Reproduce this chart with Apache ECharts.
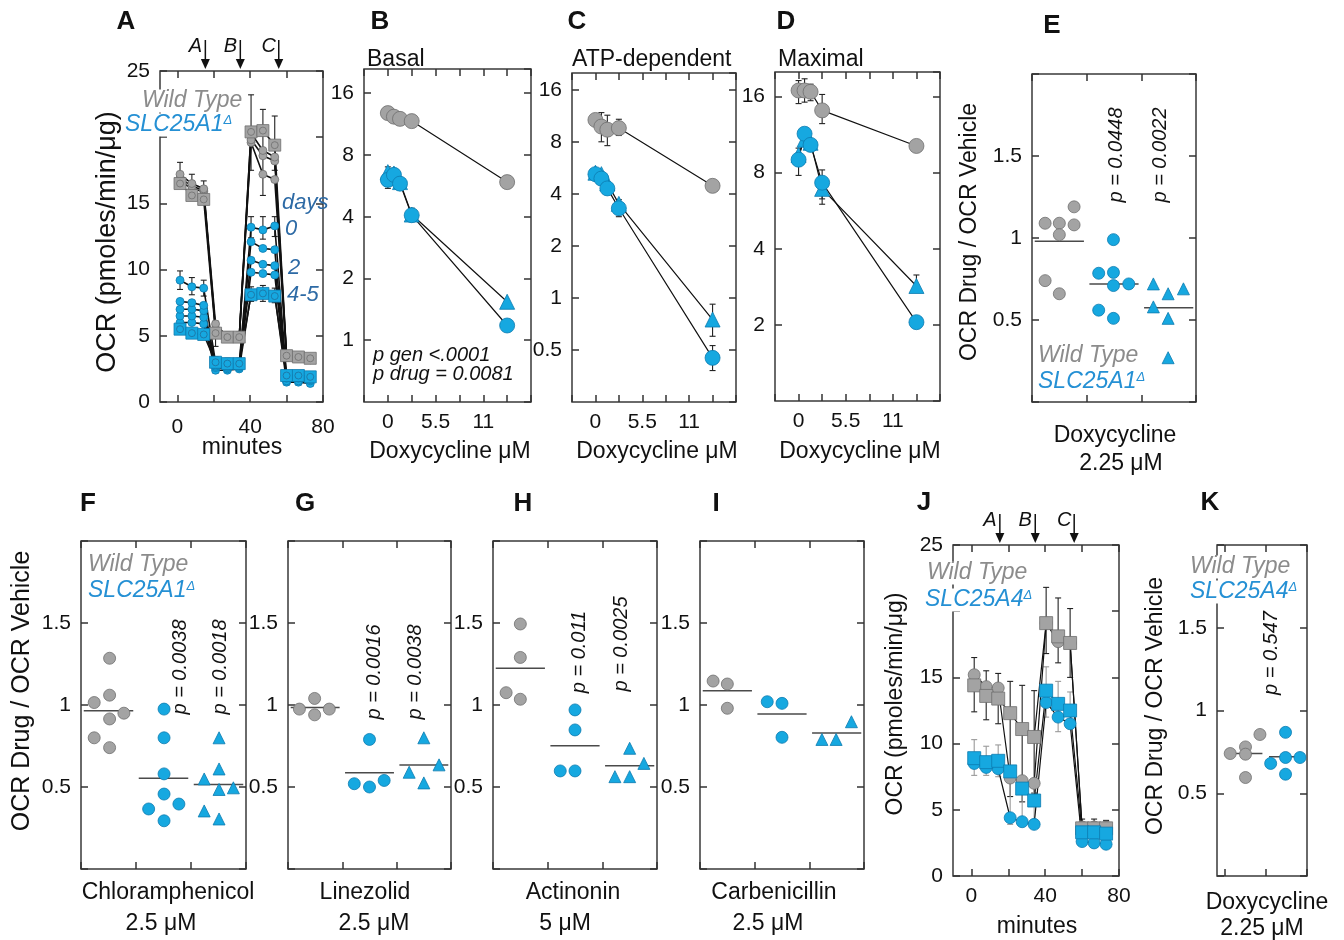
<!DOCTYPE html>
<html>
<head>
<meta charset="utf-8">
<title>OCR after antibiotic treatment</title>
<script src="https://cdn.jsdelivr.net/npm/echarts@6/dist/echarts.min.js"></script>
<style>
html,body{margin:0;padding:0;background:#fff}
#fig{width:1344px;height:940px}
</style>
</head>
<body>
<div id="fig"></div>
<script>
// ---------- data ----------
// seahorse time course (minutes) and injection times
var minutes = [1.5, 8, 14.5, 21, 27.5, 34, 40.5, 47, 53.5, 60, 66.5, 73];
var injections = [15.4, 34.6, 55.7];
var injectionNames = ['A', 'B', 'C'];

// panel A : wild type (grey) and SLC25A1 (blue), several days of doxycycline
var wtA_sq = [16.5, 15.6, 15.3, 5.2, 4.9, 4.9, 20.4, 20.5, 19.4, 3.5, 3.4, 3.3];
var wtA_c1 = [17.2, 16.5, 16.1, 5.9, 4.9, 4.9, 20.3, 19.0, 18.5, 3.5, 3.4, 3.2];
var wtA_c2 = [16.9, 16.3, 16.0, 5.5, 4.9, 4.8, 19.8, 18.6, 18.2, 3.4, 3.4, 3.2];
var wtA_c3 = [16.7, 16.1, 15.9, 5.4, 4.8, 4.8, 19.6, 17.2, 16.8, 3.4, 3.3, 3.2];
var koA_c0 = [9.2, 8.7, 8.6, 3.0, 2.9, 2.9, 13.2, 13.0, 13.3, 2.0, 2.0, 1.9];
var koA_c1 = [7.6, 7.5, 7.3, 2.8, 2.7, 2.8, 12.1, 11.6, 11.5, 1.9, 1.9, 1.8];
var koA_c2 = [7.0, 7.0, 6.9, 2.7, 2.6, 2.7, 10.7, 10.4, 10.3, 1.8, 1.8, 1.7];
var koA_c3 = [6.5, 6.5, 6.4, 2.6, 2.5, 2.6, 9.8, 9.7, 9.6, 1.6, 1.6, 1.6];
var koA_c4 = [6.0, 6.0, 5.9, 2.4, 2.4, 2.5, 8.2, 8.3, 8.1, 1.5, 1.5, 1.4];
var koA_sq = [5.5, 5.2, 5.1, 3.0, 2.9, 2.9, 8.1, 8.2, 8.0, 2.0, 2.0, 1.9];
// [minute, low, high]
var errA_wt = [[1.5,16.3,18.1],[8,15.6,17.2],[14.5,15.2,16.7],[21,4.2,6.1],[27.5,4.5,5.3],[34,4.5,5.3],
               [40.5,17.5,23.2],[47,15.6,22.1],[53.5,17.5,21.6],[60,3.1,3.8],[66.5,3.1,3.7],[73,3.0,3.6]];
var errA_ko = [[1.5,8.5,9.9],[8,8.1,9.4],[14.5,8.0,9.2],[21,2.2,3.4],[27.5,2.4,3.3],[34,2.4,3.3],
               [40.5,12.4,14.0],[47,12.3,14.0],[53.5,12.5,14.0],[60,1.3,2.3],[66.5,1.3,2.3],[73,1.2,2.2],
               [40.5,7.6,8.7],[47,7.6,8.8],[53.5,7.5,8.6]];

// panels B-D : doxycycline dose response (log2 OCR axis)
var doses = [0, 0.7, 1.4, 2.75, 13.75];
var wtB = [12.8, 12.3, 12.0, 11.7, 5.9];
var koB_c = [6.05, 6.4, 5.8, 4.07, 1.18];
var koB_t = [6.6, 6.5, 5.9, 4.1, 1.54];
var errB = [[0,12.3,13.3],[0.7,11.6,13.0],[1.4,11.3,12.6],[2.75,11.1,12.3],[13.75,5.6,6.3],
            [0,5.5,7.0],[0.7,6.0,6.8],[1.4,5.5,6.1],[2.75,3.8,4.4],[13.75,1.12,1.25]];
var wtC = [10.7, 9.8, 9.4, 9.6, 4.45];
var koC_c = [5.2, 4.9, 4.3, 3.3, 0.45];
var koC_t = [5.3, 5.2, 4.6, 3.5, 0.75];
var errC = [[0,10.0,11.5],[0.7,8.0,11.8],[1.4,7.6,11.4],[2.75,8.7,10.8],[13.75,4.2,4.8],
            [0,4.9,5.6],[1.4,4.0,4.7],[2.75,2.95,3.7],[13.75,0.38,0.53],[13.75,0.6,0.92]];
var wtD = [16.9, 16.9, 16.7, 14.1, 10.2];
var koD_c = [9.0, 11.4, 10.3, 7.3, 2.05];
var koD_t = [9.4, 10.8, 10.5, 6.9, 2.85];
var errD = [[0,15.0,18.5],[0.7,15.2,18.8],[1.4,15.4,17.9],[2.75,12.5,16.3],[13.75,9.7,10.6],
            [0,7.8,10.0],[0.7,10.8,12.0],[2.75,6.3,8.2],[2.75,6.0,7.6],[13.75,2.7,3.15]];

// panels E-I, K : OCR drug / OCR vehicle, [group position, ratio]
var wtE = [[0.24,1.09],[0.5,1.09],[0.77,1.08],[0.77,1.19],[0.5,1.02],[0.24,0.74],[0.5,0.66]];
var koE_c = [[1.49,0.99],[1.22,0.785],[1.49,0.79],[1.49,0.71],[1.77,0.72],[1.22,0.56],[1.49,0.51]];
var koE_t = [[2.22,0.72],[2.49,0.66],[2.77,0.69],[2.22,0.58],[2.49,0.51],[2.49,0.27]];
var meanE = [0.98, 0.72, 0.575];

var wtF = [[0.52,1.285],[0.52,1.06],[0.24,1.015],[0.78,0.95],[0.52,0.915],[0.24,0.8],[0.52,0.74]];
var koF_c = [[1.51,0.975],[1.51,0.80],[1.51,0.58],[1.51,0.457],[1.23,0.366],[1.78,0.396],[1.51,0.294]];
var koF_t = [[2.51,0.80],[2.51,0.61],[2.24,0.549],[2.51,0.485],[2.77,0.495],[2.24,0.354],[2.51,0.305]];
var meanF = [0.965, 0.553, 0.516];

var wtG = [[0.21,0.975],[0.49,1.04],[0.49,0.94],[0.76,0.975]];
var koG_c = [[1.5,0.79],[1.22,0.52],[1.5,0.5],[1.77,0.54]];
var koG_t = [[2.5,0.80],[2.23,0.59],[2.5,0.525],[2.78,0.635]];
var meanG = [0.985, 0.587, 0.634];

var wtH = [[0.5,1.494],[0.5,1.29],[0.24,1.075],[0.5,1.035]];
var koH_c = [[1.5,0.97],[1.5,0.848],[1.23,0.598],[1.5,0.598]];
var koH_t = [[2.5,0.736],[2.76,0.644],[2.23,0.563],[2.5,0.563]];
var meanH = [1.224, 0.752, 0.63];

var wtI = [[0.24,1.146],[0.5,1.128],[0.5,0.98]];
var koI_c = [[1.23,1.02],[1.5,1.01],[1.5,0.803]];
var koI_t = [[2.77,0.898],[2.23,0.79],[2.49,0.79]];
var meanI = [1.087, 0.945, 0.83];

// panel J : SLC25A4 time course
var wtJ_c = [15.2, 14.3, 14.2, 7.4, 7.2, 7.0, 19.1, 17.7, 17.6, 3.7, 3.7, 3.7];
var wtJ_sq = [14.4, 13.6, 13.4, 12.3, 11.1, 10.5, 19.1, 18.1, 17.6, 3.6, 3.6, 3.6];
var koJ_sq = [8.9, 8.6, 8.7, 7.9, 6.6, 5.7, 14.0, 13.0, 12.5, 3.3, 3.3, 3.2];
var koJ_c = [8.5, 8.2, 8.1, 4.4, 4.1, 3.9, 13.1, 12.0, 11.5, 2.6, 2.5, 2.4];
var errJ_wt = [[1.5,12.4,16.5],[8,11.8,15.5],[14.5,11.5,15.3],[21,6.0,14.7],[27.5,5.6,14.4],[34,6.2,14.0],
               [40.5,16.8,21.8],[47,16.1,21.0],[53.5,15.0,20.2],[60,3.0,4.3],[66.5,3.0,4.3],[73,3.0,4.2]];
var errJ_ko = [[1.5,7.6,10.3],[8,7.6,9.8],[14.5,7.5,9.9],[21,3.9,8.2],[27.5,3.8,6.9],[34,3.6,6.3],
               [40.5,12.0,15.8],[47,10.9,14.7],[53.5,11.3,13.9],[60,2.3,3.6],[66.5,2.2,3.6],[73,2.1,3.5]];

// panel K
var wtK = [[0.14,0.74],[0.51,0.78],[0.51,0.736],[0.86,0.855],[0.51,0.595]];
var koK_c = [[1.48,0.868],[1.12,0.68],[1.48,0.716],[1.83,0.716],[1.48,0.615]];
var meanK = [0.74, 0.72];

// ---------- layout / style ----------
var FONT = "'Liberation Sans', Arial, Helvetica, sans-serif";
var GRAY = '#a3a3a3', GRAY_EDGE = '#6e6e6e';
var BLUE = '#16a8e0', BLUE_EDGE = '#0c7bb0';
var GRAY_TXT = '#8c8c8c', BLUE_TXT = '#2590d4', DAYS_TXT = '#2d6aa5';
// left, top, width, height of each panel box (A..K)
var grids = [
  [160, 71, 163, 331], [364, 69, 167, 333], [572, 73, 164, 329], [775, 72, 165, 329],
  [1032, 74, 164, 328], [81, 541, 165, 328], [288, 541, 163, 328], [493, 541, 164, 328],
  [700, 541, 164, 328], [953, 545, 166, 331], [1217, 545, 90, 331]
];

var chart = echarts.init(document.getElementById('fig'));

// ---------- axes ----------
var xAxes = [], yAxes = [];
function axis(g, pos, o, withLabels) {
  var a = {
    gridIndex: g, position: pos, type: 'value',
    axisLine: {show: false, onZero: false}, splitLine: {show: false},
    axisTick: {show: true, inside: true, length: 7, lineStyle: {color: '#333', width: 1.5}},
    axisLabel: {color: '#111', fontSize: 21, fontFamily: FONT, margin: 10}
  };
  for (var k in o) {
    if (k === 'axisLabel' || k === 'axisTick') {
      for (var j in o[k]) a[k][j] = o[k][j];
    } else a[k] = o[k];
  }
  a.axisLabel.show = withLabels;
  return a;
}
function panelAxes(g, xo, yo, xLabels) {
  xAxes.push(axis(g, 'bottom', xo, xLabels), axis(g, 'top', xo, false));
  yAxes.push(axis(g, 'left', yo, true), axis(g, 'right', yo, false));
}
function timeX(min, gap) {
  return {min: min, max: 80, axisTick: {customValues: [0, 20, 40, 60, 80]},
    axisLabel: {customValues: [0, 40, 80], margin: gap}};
}
var ocrY = {min: 0, max: 25, interval: 5, axisLabel: {formatter: function (v) { return v === 20 ? '' : String(v); }}};
var doseX = {min: -2.75, max: 16.5, interval: 2.75, axisLabel: {formatter: function (v) {
  var r = Math.round(v * 100) / 100;
  return (r === 0 || r === 5.5 || r === 11) ? String(r) : '';
}}};
function logY(min, max, shown) {
  return {type: 'log', logBase: 2, min: min, max: max, axisLabel: {showMinLabel: false, showMaxLabel: false,
    formatter: function (v) { var r = Math.round(v * 1000) / 1000; return shown.indexOf(r) >= 0 ? String(r) : ''; }}};
}
var ratioY = {min: 0, max: 2, interval: 0.5, axisLabel: {formatter: function (v) { return (v > 0 && v < 2) ? String(v) : ''; }}};
var groupX = {min: 0, max: 3, interval: 1};
var kX = {min: -0.18, max: 2, axisTick: {customValues: [0, 1, 2]}};

panelAxes(0, timeX(-9.5, 15), ocrY, true);
panelAxes(1, doseX, logY(0.5, 21, [1, 2, 4, 8, 16]), true);
panelAxes(2, doseX, logY(0.25, 20, [0.5, 1, 2, 4, 8, 16]), true);
panelAxes(3, doseX, logY(1, 20, [2, 4, 8, 16]), true);
for (var g = 4; g <= 8; g++) panelAxes(g, groupX, ratioY, false);
panelAxes(9, timeX(-10, 10), ocrY, true);
panelAxes(10, kX, ratioY, false);

// ---------- series ----------
var S = [];
function ser(g, o) { o.xAxisIndex = 2 * g; o.yAxisIndex = 2 * g; S.push(o); }
function pairs(xs, ys) { return xs.map(function (x, i) { return [x, ys[i]]; }); }
function curve(g, xs, ys, sym, size, fill, edge, lw) {
  ser(g, {type: 'line', data: pairs(xs, ys), symbol: sym, symbolSize: size, showSymbol: true, z: 3,
    lineStyle: {color: '#111', width: lw}, itemStyle: {color: fill, borderColor: edge, borderWidth: 0.8}});
}
function dots(g, pts, sym, size, fill, edge) {
  ser(g, {type: 'scatter', data: pts, symbol: sym, symbolSize: size, z: 4,
    itemStyle: {color: fill, borderColor: edge, borderWidth: 0.8, opacity: 1}});
}
function bars(g, rows, color) {
  ser(g, {type: 'custom', data: rows, z: 2, encode: {x: 0, y: [1, 2]},
    renderItem: function (p, api) {
      var x = api.value(0);
      var lo = api.coord([x, api.value(1)]), hi = api.coord([x, api.value(2)]);
      var st = {stroke: color, lineWidth: 1.1};
      return {type: 'group', children: [
        {type: 'line', shape: {x1: lo[0], y1: lo[1], x2: hi[0], y2: hi[1]}, style: st},
        {type: 'line', shape: {x1: hi[0] - 3, y1: hi[1], x2: hi[0] + 3, y2: hi[1]}, style: st},
        {type: 'line', shape: {x1: lo[0] - 3, y1: lo[1], x2: lo[0] + 3, y2: lo[1]}, style: st}
      ]};
    }});
}
function means(g, ms, hw) {
  ser(g, {type: 'custom', data: ms.map(function (m, i) { return [i + 0.5, m]; }), z: 3,
    renderItem: function (p, api) {
      var a = api.coord([api.value(0) - hw, api.value(1)]), b = api.coord([api.value(0) + hw, api.value(1)]);
      return {type: 'line', shape: {x1: a[0], y1: a[1], x2: b[0], y2: b[1]}, style: {stroke: '#4a4a4a', lineWidth: 1.5}};
    }});
}

// A
bars(0, errA_wt, '#222');
bars(0, errA_ko, '#222');
[wtA_c3, wtA_c2, wtA_c1].forEach(function (d) { curve(0, minutes, d, 'circle', 8, GRAY, GRAY_EDGE, 1.6); });
curve(0, minutes, wtA_sq, 'rect', 12, GRAY, GRAY_EDGE, 1.6);
dots(0, pairs(minutes, wtA_sq), 'circle', 7, GRAY, GRAY_EDGE);
[koA_c4, koA_c3, koA_c2, koA_c1, koA_c0].forEach(function (d) { curve(0, minutes, d, 'circle', 8, BLUE, BLUE_EDGE, 1.6); });
curve(0, minutes, koA_sq, 'rect', 12, BLUE, BLUE_EDGE, 1.6);
dots(0, pairs(minutes, koA_sq), 'circle', 7, BLUE, '#1f6f9c');

// B-D
[[1, errB, wtB, koB_c, koB_t], [2, errC, wtC, koC_c, koC_t], [3, errD, wtD, koD_c, koD_t]].forEach(function (p) {
  bars(p[0], p[1], '#222');
  curve(p[0], doses, p[2], 'circle', 15, GRAY, GRAY_EDGE, 1.2);
  curve(p[0], doses, p[4], 'triangle', 15, BLUE, BLUE_EDGE, 1.2);
  curve(p[0], doses, p[3], 'circle', 15, BLUE, BLUE_EDGE, 1.2);
});

// E-I
[[4, wtE, koE_c, koE_t, meanE], [5, wtF, koF_c, koF_t, meanF], [6, wtG, koG_c, koG_t, meanG],
 [7, wtH, koH_c, koH_t, meanH], [8, wtI, koI_c, koI_t, meanI]].forEach(function (p) {
  means(p[0], p[4], 0.45);
  dots(p[0], p[1], 'circle', 12, GRAY, GRAY_EDGE);
  dots(p[0], p[2], 'circle', 12, BLUE, BLUE_EDGE);
  dots(p[0], p[3], 'triangle', 12, BLUE, BLUE_EDGE);
});

// J
bars(9, errJ_wt, '#222');
bars(9, errJ_ko, '#9a9a9a');
curve(9, minutes, wtJ_c, 'circle', 12, GRAY, GRAY_EDGE, 1.2);
curve(9, minutes, wtJ_sq, 'rect', 13, GRAY, GRAY_EDGE, 1.2);
curve(9, minutes, koJ_c, 'circle', 12, BLUE, BLUE_EDGE, 1.2);
curve(9, minutes, koJ_sq, 'rect', 13, BLUE, BLUE_EDGE, 1.2);

// K
means(10, meanK, 0.42);
dots(10, wtK, 'circle', 12, GRAY, GRAY_EDGE);
dots(10, koK_c, 'circle', 12, BLUE, BLUE_EDGE);

chart.setOption({
  animation: false,
  grid: grids.map(function (b) {
    return {left: b[0], top: b[1], width: b[2], height: b[3], show: true, borderColor: '#3a3a3a', borderWidth: 1.5,
      backgroundColor: 'transparent', containLabel: false};
  }),
  xAxis: xAxes,
  yAxis: yAxes,
  series: S
});

// ---------- texts ----------
var gfx = [];
var UP = Math.PI / 2;
function txt(x, y, s, o) {
  var st = {text: s, fill: '#111', fontSize: 23, fontFamily: FONT, align: 'center', verticalAlign: 'middle'};
  var el = {type: 'text', x: x, y: y, z: 100, style: st};
  if (o) for (var k in o) { if (k === 'rotation') el.rotation = o[k]; else st[k] = o[k]; }
  gfx.push(el);
}
function gene(x, y, name) {
  txt(x, y, '{g|' + name + '}{d|Δ}', {align: 'left', backgroundColor: '#fff',
    rich: {g: {fill: BLUE_TXT, fontSize: 23, fontStyle: 'italic', fontFamily: FONT},
           d: {fill: BLUE_TXT, fontSize: 13, fontStyle: 'italic', fontFamily: FONT, verticalAlign: 'top'}}});
}
function wild(x, y) {
  txt(x, y, 'Wild Type', {align: 'left', fill: GRAY_TXT, fontStyle: 'italic', backgroundColor: '#fff'});
}
function pval(x, y, s) { txt(x, y, s, {rotation: UP, fontSize: 20, fontStyle: 'italic'}); }

// panel letters
[['A', 126, 22], ['B', 380, 22], ['C', 577, 22], ['D', 786, 22], ['E', 1052, 26], ['F', 88, 504],
 ['G', 305, 504], ['H', 523, 504], ['I', 716, 504], ['J', 924, 503], ['K', 1210, 503]].forEach(function (l) {
  txt(l[1], l[2], l[0], {fontSize: 26, fontWeight: 'bold'});
});

// A
txt(108, 242, 'OCR (pmoles/min/μg)', {rotation: UP, fontSize: 27});
txt(242, 448, 'minutes');
wild(142, 101);
gene(125, 125, 'SLC25A1');
txt(282, 203, 'days', {align: 'left', fill: DAYS_TXT, fontStyle: 'italic', fontSize: 22});
txt(285, 229, '0', {align: 'left', fill: DAYS_TXT, fontStyle: 'italic', fontSize: 22});
txt(288, 268, '2', {align: 'left', fill: DAYS_TXT, fontStyle: 'italic', fontSize: 22});
txt(287, 295, '4-5', {align: 'left', fill: DAYS_TXT, fontStyle: 'italic', fontSize: 22});

// B-D
txt(367, 60, 'Basal', {align: 'left'});
txt(572, 60, 'ATP-dependent', {align: 'left'});
txt(778, 60, 'Maximal', {align: 'left'});
txt(450, 452, 'Doxycycline μM');
txt(657, 452, 'Doxycycline μM');
txt(860, 452, 'Doxycycline μM');
txt(373, 355, 'p gen <.0001', {align: 'left', fontSize: 20, fontStyle: 'italic'});
txt(373, 374, 'p drug = 0.0081', {align: 'left', fontSize: 20, fontStyle: 'italic'});

// E
txt(970, 232, 'OCR Drug / OCR Vehicle', {rotation: UP});
txt(1115, 436, 'Doxycycline');
txt(1121, 464, '2.25 μM');
wild(1038, 356);
gene(1038, 382, 'SLC25A1');
pval(1116, 155, 'p = 0.0448');
pval(1160, 155, 'p = 0.0022');

// F-I
txt(22, 691, 'OCR Drug / OCR Vehicle', {rotation: UP, fontSize: 25});
wild(88, 565);
gene(88, 591, 'SLC25A1');
pval(180, 667, 'p = 0.0038');
pval(220, 667, 'p = 0.0018');
pval(374, 672, 'p = 0.0016');
pval(415, 672, 'p = 0.0038');
pval(579, 652, 'p = 0.011');
pval(621, 644, 'p = 0.0025');
txt(168, 893, 'Chloramphenicol');
txt(161, 924, '2.5 μM');
txt(365, 893, 'Linezolid');
txt(374, 924, '2.5 μM');
txt(573, 893, 'Actinonin');
txt(565, 924, '5 μM');
txt(774, 893, 'Carbenicillin');
txt(768, 924, '2.5 μM');

// J
txt(896, 704, 'OCR (pmoles/min/μg)', {rotation: UP});
txt(1037, 927, 'minutes');
wild(927, 573);
gene(925, 600, 'SLC25A4');

// K
txt(1156, 706, 'OCR Drug / OCR Vehicle', {rotation: UP});
wild(1190, 567);
gene(1190, 592, 'SLC25A4');
pval(1271, 653, 'p = 0.547');
txt(1267, 903, 'Doxycycline');
txt(1262, 929, '2.25 μM');

// injection arrows on the two time courses, placed through the time axis
[0, 9].forEach(function (g) {
  var top = grids[g][1];
  injections.forEach(function (t, i) {
    var px = chart.convertToPixel({xAxisIndex: 2 * g}, t);
    gfx.push({type: 'line', z: 100, shape: {x1: px, y1: top - 31, x2: px, y2: top - 8}, style: {stroke: '#111', lineWidth: 1.5}});
    gfx.push({type: 'polygon', z: 100, shape: {points: [[px - 4.5, top - 12], [px + 4.5, top - 12], [px, top - 2]]}, style: {fill: '#111'}});
    txt(px - 10, top - 25, injectionNames[i], {fontSize: 20, fontStyle: 'italic'});
  });
});

chart.setOption({graphic: {elements: gfx}});
</script>
</body>
</html>
